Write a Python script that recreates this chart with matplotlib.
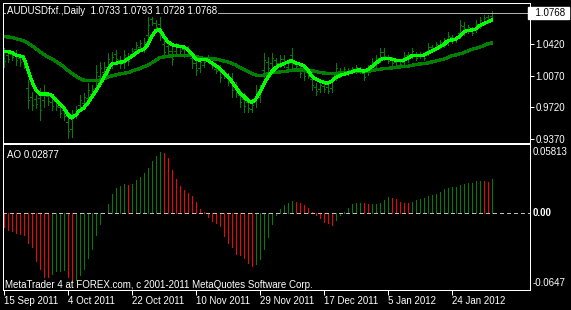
import matplotlib.pyplot as plt
import matplotlib.transforms as mtransforms
import numpy as np

plt.rcParams['font.family'] = ['Liberation Sans', 'DejaVu Sans']

# --- data (AUDUSD daily) ---
date_labels = ['15 Sep 2011', '4 Oct 2011', '22 Oct 2011', '10 Nov 2011',
               '29 Nov 2011', '17 Dec 2011', '5 Jan 2012', '24 Jan 2012']
date_pos = [0, 16, 32, 48, 64, 80, 96, 112]

highs = [1.0379, 1.0335, 1.0346, 1.0357, 1.0313, 1.0302, 1.0024, 0.9891, 0.9858, 0.9936,
         0.9969, 0.9891, 0.9825, 0.9836, 0.9769, 0.9736, 0.9636, 0.9692, 0.9736, 0.9858,
         0.9880, 0.9991, 0.9969, 1.0191, 1.0224, 1.0224, 1.0324, 1.0335, 1.0357, 1.0291,
         1.0357, 1.0324, 1.0379, 1.0446, 1.0468, 1.0490, 1.0723, 1.0723, 1.0690, 1.0723,
         1.0490, 1.0446, 1.0413, 1.0435, 1.0413, 1.0402, 1.0402, 1.0324, 1.0269, 1.0269,
         1.0246, 1.0302, 1.0246, 1.0169, 1.0191, 1.0135, 1.0102, 1.0102, 1.0002, 0.9914,
         0.9880, 0.9825, 0.9780, 0.9969, 0.9969, 1.0324, 1.0280, 1.0324, 1.0269, 1.0302,
         1.0302, 1.0246, 1.0379, 1.0224, 1.0191, 1.0169, 1.0135, 1.0080, 0.9991, 1.0002,
         0.9991, 0.9969, 1.0058, 1.0213, 1.0158, 1.0169, 1.0158, 1.0169, 1.0191, 1.0169,
         1.0135, 1.0191, 1.0269, 1.0302, 1.0379, 1.0379, 1.0302, 1.0280, 1.0246, 1.0224,
         1.0335, 1.0335, 1.0379, 1.0335, 1.0335, 1.0324, 1.0435, 1.0413, 1.0446, 1.0468,
         1.0490, 1.0557, 1.0524, 1.0502, 1.0690, 1.0668, 1.0635, 1.0612, 1.0690, 1.0723,
         1.0746, 1.0746, 1.0793]
lows = [1.0169, 1.0224, 1.0246, 1.0191, 1.0180, 1.0158, 0.9714, 0.9692, 0.9714, 0.9581,
        0.9725, 0.9747, 0.9692, 0.9692, 0.9614, 0.9581, 0.9381, 0.9392, 0.9603, 0.9692,
        0.9725, 0.9747, 0.9825, 0.9936, 1.0002, 1.0058, 1.0102, 1.0158, 1.0213, 1.0158,
        1.0158, 1.0191, 1.0280, 1.0335, 1.0357, 1.0335, 1.0446, 1.0635, 1.0579, 1.0468,
        1.0269, 1.0302, 1.0191, 1.0302, 1.0324, 1.0280, 1.0302, 1.0158, 1.0080, 1.0113,
        1.0169, 1.0246, 1.0158, 1.0102, 1.0002, 1.0047, 0.9969, 0.9836, 0.9836, 0.9725,
        0.9669, 0.9669, 0.9669, 0.9725, 0.9780, 1.0058, 1.0102, 1.0158, 1.0191, 1.0169,
        1.0169, 1.0135, 1.0135, 1.0158, 1.0058, 1.0024, 1.0047, 0.9914, 0.9858, 0.9891,
        0.9891, 0.9880, 0.9891, 1.0024, 1.0058, 1.0080, 1.0080, 1.0102, 1.0102, 1.0102,
        1.0024, 1.0080, 1.0135, 1.0169, 1.0224, 1.0246, 1.0213, 1.0191, 1.0169, 1.0158,
        1.0169, 1.0224, 1.0269, 1.0246, 1.0269, 1.0246, 1.0302, 1.0335, 1.0357, 1.0379,
        1.0391, 1.0413, 1.0435, 1.0446, 1.0490, 1.0524, 1.0546, 1.0524, 1.0557, 1.0601,
        1.0635, 1.0657, 1.0728]
opens = [1.0316, 1.0302, 1.0316, 1.0307, 1.0273, 1.0259, 0.9931, 0.9831, 0.9815, 0.9830,
         0.9798, 0.9848, 0.9785, 0.9793, 0.9723, 0.9690, 0.9560, 0.9482, 0.9643, 0.9742,
         0.9772, 0.9820, 0.9868, 1.0013, 1.0069, 1.0108, 1.0169, 1.0211, 1.0314, 1.0251,
         1.0218, 1.0284, 1.0310, 1.0368, 1.0390, 1.0382, 1.0529, 1.0697, 1.0657, 1.0646,
         1.0424, 1.0403, 1.0346, 1.0342, 1.0386, 1.0365, 1.0372, 1.0274, 1.0212, 1.0160,
         1.0192, 1.0285, 1.0220, 1.0149, 1.0134, 1.0109, 1.0062, 1.0022, 0.9952, 0.9857,
         0.9817, 0.9778, 0.9702, 0.9798, 0.9837, 1.0138, 1.0227, 1.0208, 1.0246, 1.0209,
         1.0262, 1.0168, 1.0306, 1.0204, 1.0151, 1.0126, 1.0109, 1.0030, 0.9951, 0.9924,
         0.9961, 0.9942, 0.9941, 1.0081, 1.0128, 1.0107, 1.0103, 1.0122, 1.0129, 1.0149,
         1.0102, 1.0113, 1.0175, 1.0209, 1.0271, 1.0339, 1.0275, 1.0253, 1.0223, 1.0178,
         1.0219, 1.0302, 1.0302, 1.0308, 1.0289, 1.0301, 1.0342, 1.0390, 1.0384, 1.0406,
         1.0421, 1.0456, 1.0497, 1.0463, 1.0550, 1.0625, 1.0573, 1.0586, 1.0597, 1.0638,
         1.0668, 1.0719, 1.0733]
closes = [1.0232, 1.0257, 1.0276, 1.0241, 1.0220, 1.0201, 0.9807, 0.9752, 0.9757, 0.9688,
          0.9896, 0.9790, 0.9732, 0.9735, 0.9661, 0.9628, 0.9458, 0.9602, 0.9696, 0.9808,
          0.9834, 0.9918, 0.9926, 1.0115, 1.0157, 1.0174, 1.0257, 1.0282, 1.0256, 1.0198,
          1.0297, 1.0231, 1.0349, 1.0413, 1.0435, 1.0444, 1.0640, 1.0661, 1.0612, 1.0545,
          1.0335, 1.0345, 1.0258, 1.0395, 1.0351, 1.0317, 1.0332, 1.0208, 1.0137, 1.0222,
          1.0223, 1.0263, 1.0184, 1.0122, 1.0059, 1.0073, 1.0009, 0.9916, 0.9886, 0.9782,
          0.9732, 0.9716, 0.9747, 0.9896, 0.9912, 1.0244, 1.0155, 1.0274, 1.0214, 1.0262,
          1.0209, 1.0213, 1.0208, 1.0178, 1.0098, 1.0068, 1.0073, 0.9964, 0.9898, 0.9969,
          0.9921, 0.9907, 1.0008, 1.0156, 1.0088, 1.0142, 1.0135, 1.0149, 1.0164, 1.0122,
          1.0057, 1.0158, 1.0229, 1.0262, 1.0333, 1.0286, 1.0240, 1.0218, 1.0192, 1.0204,
          1.0285, 1.0257, 1.0346, 1.0273, 1.0315, 1.0269, 1.0395, 1.0358, 1.0419, 1.0441,
          1.0460, 1.0514, 1.0462, 1.0485, 1.0630, 1.0567, 1.0608, 1.0550, 1.0650, 1.0686,
          1.0713, 1.0684, 1.0768]

fast_ma = [1.0338, 1.0338, 1.0332, 1.0302, 1.0294, 1.0276, 1.0154, 1.0024, 0.9921, 0.9869,
           0.9869, 0.9869, 0.9858, 0.9810, 0.9758, 0.9722, 0.9647, 0.9603, 0.9633, 0.9684,
           0.9710, 0.9766, 0.9832, 0.9895, 0.9969, 1.0043, 1.0128, 1.0202, 1.0210, 1.0221,
           1.0227, 1.0254, 1.0287, 1.0316, 1.0349, 1.0365, 1.0413, 1.0498, 1.0571, 1.0587,
           1.0513, 1.0454, 1.0420, 1.0405, 1.0398, 1.0391, 1.0368, 1.0321, 1.0261, 1.0246,
           1.0254, 1.0246, 1.0216, 1.0187, 1.0154, 1.0105, 1.0069, 1.0013, 0.9950, 0.9888,
           0.9847, 0.9803, 0.9773, 0.9810, 0.9883, 0.9969, 1.0050, 1.0113, 1.0158, 1.0187,
           1.0202, 1.0224, 1.0239, 1.0216, 1.0202, 1.0183, 1.0143, 1.0072, 1.0036, 1.0017,
           0.9999, 0.9988, 1.0010, 1.0047, 1.0072, 1.0088, 1.0099, 1.0113, 1.0132, 1.0136,
           1.0122, 1.0136, 1.0169, 1.0205, 1.0243, 1.0265, 1.0265, 1.0257, 1.0243, 1.0239,
           1.0243, 1.0265, 1.0291, 1.0294, 1.0294, 1.0298, 1.0321, 1.0346, 1.0365, 1.0391,
           1.0413, 1.0457, 1.0468, 1.0476, 1.0505, 1.0554, 1.0576, 1.0579, 1.0590, 1.0624,
           1.0646, 1.0668, 1.0687]
slow_ma = [1.0505, 1.0502, 1.0498, 1.0483, 1.0472, 1.0460, 1.0438, 1.0409, 1.0376, 1.0343,
           1.0310, 1.0283, 1.0261, 1.0235, 1.0205, 1.0172, 1.0135, 1.0099, 1.0069, 1.0043,
           1.0024, 1.0017, 1.0017, 1.0017, 1.0021, 1.0036, 1.0054, 1.0069, 1.0080, 1.0091,
           1.0099, 1.0105, 1.0121, 1.0136, 1.0150, 1.0169, 1.0187, 1.0213, 1.0239, 1.0269,
           1.0283, 1.0287, 1.0291, 1.0294, 1.0294, 1.0294, 1.0294, 1.0294, 1.0287, 1.0276,
           1.0265, 1.0261, 1.0261, 1.0257, 1.0250, 1.0235, 1.0227, 1.0210, 1.0191, 1.0165,
           1.0141, 1.0124, 1.0099, 1.0080, 1.0072, 1.0077, 1.0091, 1.0105, 1.0110, 1.0113,
           1.0117, 1.0124, 1.0132, 1.0136, 1.0136, 1.0136, 1.0136, 1.0128, 1.0121, 1.0110,
           1.0102, 1.0099, 1.0099, 1.0099, 1.0099, 1.0102, 1.0110, 1.0113, 1.0121, 1.0124,
           1.0119, 1.0121, 1.0128, 1.0136, 1.0143, 1.0150, 1.0154, 1.0158, 1.0161, 1.0169,
           1.0172, 1.0176, 1.0187, 1.0194, 1.0202, 1.0205, 1.0213, 1.0224, 1.0235, 1.0246,
           1.0257, 1.0272, 1.0291, 1.0302, 1.0313, 1.0327, 1.0346, 1.0365, 1.0376, 1.0387,
           1.0405, 1.0424, 1.0435]

ao = [-0.0125, -0.0148, -0.0153, -0.0176, -0.0182, -0.0187, -0.0261, -0.0295, -0.0409, -0.0483,
      -0.0545, -0.0551, -0.0523, -0.0500, -0.0494, -0.0488, -0.0551, -0.0588, -0.0574, -0.0534,
      -0.0477, -0.0389, -0.0312, -0.0193, -0.0097, -0.0006, 0.0077, 0.0156, 0.0207, 0.0227,
      0.0241, 0.0236, 0.0244, 0.0281, 0.0304, 0.0338, 0.0378, 0.0440, 0.0486, 0.0514,
      0.0511, 0.0463, 0.0366, 0.0287, 0.0224, 0.0190, 0.0170, 0.0145, 0.0088, 0.0028,
      0.0003, -0.0037, -0.0071, -0.0085, -0.0116, -0.0199, -0.0256, -0.0290, -0.0349, -0.0364,
      -0.0389, -0.0426, -0.0454, -0.0435, -0.0392, -0.0312, -0.0207, -0.0099, -0.0020, 0.0028,
      0.0062, 0.0085, 0.0102, 0.0088, 0.0085, 0.0065, 0.0040, 0.0006, -0.0017, -0.0048,
      -0.0077, -0.0091, -0.0105, -0.0060, -0.0023, 0.0003, 0.0043, 0.0077, 0.0080, 0.0085,
      0.0080, 0.0071, 0.0074, 0.0077, 0.0082, 0.0111, 0.0131, 0.0122, 0.0114, 0.0094,
      0.0082, 0.0080, 0.0088, 0.0105, 0.0119, 0.0122, 0.0139, 0.0148, 0.0159, 0.0173,
      0.0199, 0.0213, 0.0216, 0.0219, 0.0233, 0.0241, 0.0250, 0.0253, 0.0267, 0.0270,
      0.0267, 0.0258, 0.02877]

header = 'AUDUSDfxf.,Daily  1.0733 1.0793 1.0728 1.0768'
last_price = 1.0768
price_ticks = [1.0420, 1.0070, 0.9720, 0.9370]
ao_top, ao_bottom = 0.05813, -0.0647

# --- layout in pixels ---
W, H = 571, 310
fig = plt.figure(figsize=(W / 100, H / 100), dpi=100, facecolor='black')


def box(x0, y0, x1, y1):
    return [x0 / W, 1 - y1 / H, (x1 - x0) / W, (y1 - y0) / H]


ax1 = fig.add_axes(box(2.5, 2.5, 529.5, 142.5))
ax2 = fig.add_axes(box(2.5, 144.5, 529.5, 289.5))

lw = 0.72  # one pixel
x = np.arange(len(ao))
for ax in (ax1, ax2):
    ax.set_facecolor('black')
    for s in ax.spines.values():
        s.set_color('white')
        s.set_linewidth(lw)
    ax.set_xlim(-0.25, 131.5)

# price panel
bar_col = '#008000'
ax1.vlines(x, lows, highs, color=bar_col, lw=lw, antialiased=False)
ax1.hlines(opens, x - 0.3, x, color=bar_col, lw=lw, antialiased=False)
ax1.hlines(closes, x, x + 0.3, color=bar_col, lw=lw, antialiased=False)
ax1.plot(x, slow_ma, color='#008000', lw=1.6, antialiased=False)
ax1.plot(x, fast_ma, color='#00ff00', lw=1.6, antialiased=False)
ax1.axhline(last_price, color='#b0b0b0', lw=lw, antialiased=False)
ax1.set_ylim(0.93310, 1.08843)

ax1.set_xticks([])
ax1.yaxis.tick_right()
ax1.set_yticks(price_ticks)
ax1.set_yticklabels(['%.4f' % v for v in price_ticks])
ax1.tick_params(axis='y', colors='white', length=3, width=lw, labelsize=7, pad=1.5)

trans1 = mtransforms.blended_transform_factory(ax1.transAxes, ax1.transData)
ax1.text(1.0, last_price, '  1.0768 ', transform=trans1, color='black', fontsize=7,
         ha='left', va='center',
         bbox=dict(boxstyle='square,pad=0.15', fc='white', ec='white'))
ax1.text(0.008, 0.94, header, transform=ax1.transAxes, color='white', fontsize=7,
         ha='left', va='center',
         bbox=dict(boxstyle='square,pad=0.1', fc='black', ec='none'))

# awesome oscillator panel
prev = np.concatenate([[np.inf], ao[:-1]])
ao_cols = np.where(np.array(ao) > prev, '#008000', '#ff0000')
ax2.vlines(x, 0, ao, colors=ao_cols, lw=lw, antialiased=False)
ax2.axhline(0, color='#c0c0c0', lw=lw, ls=(0, (3, 3)), antialiased=False)
ax2.set_ylim(-0.0654, ao_top)

ax2.set_xticks(date_pos)
ax2.set_xticklabels(date_labels, ha='left')
ax2.tick_params(axis='x', colors='white', length=3.5, width=lw, labelsize=7, pad=1)
ax2.yaxis.tick_right()
ax2.set_yticks([])

ax2.text(1.006, 0.948, '%.5f' % ao_top, transform=ax2.transAxes, color='white',
         fontsize=7, ha='left', va='center')
trans2 = mtransforms.blended_transform_factory(ax2.transAxes, ax2.transData)
ax2.text(1.006, 0, '0.00', transform=trans2, color='white', fontsize=7,
         ha='left', va='center', fontweight='bold')
ax2.text(1.006, 0.045, '%.4f' % ao_bottom, transform=ax2.transAxes, color='white',
         fontsize=7, ha='left', va='center')
ax2.text(0.008, 0.93, 'AO 0.02877', transform=ax2.transAxes, color='white', fontsize=7,
         ha='left', va='center')
ax2.text(0.005, 0.03, 'MetaTrader 4 at FOREX.com, c 2001-2011 MetaQuotes Software Corp.',
         transform=ax2.transAxes, color='white', fontsize=7, ha='left', va='center')

fig.savefig('out.png', dpi=100, facecolor='black')
